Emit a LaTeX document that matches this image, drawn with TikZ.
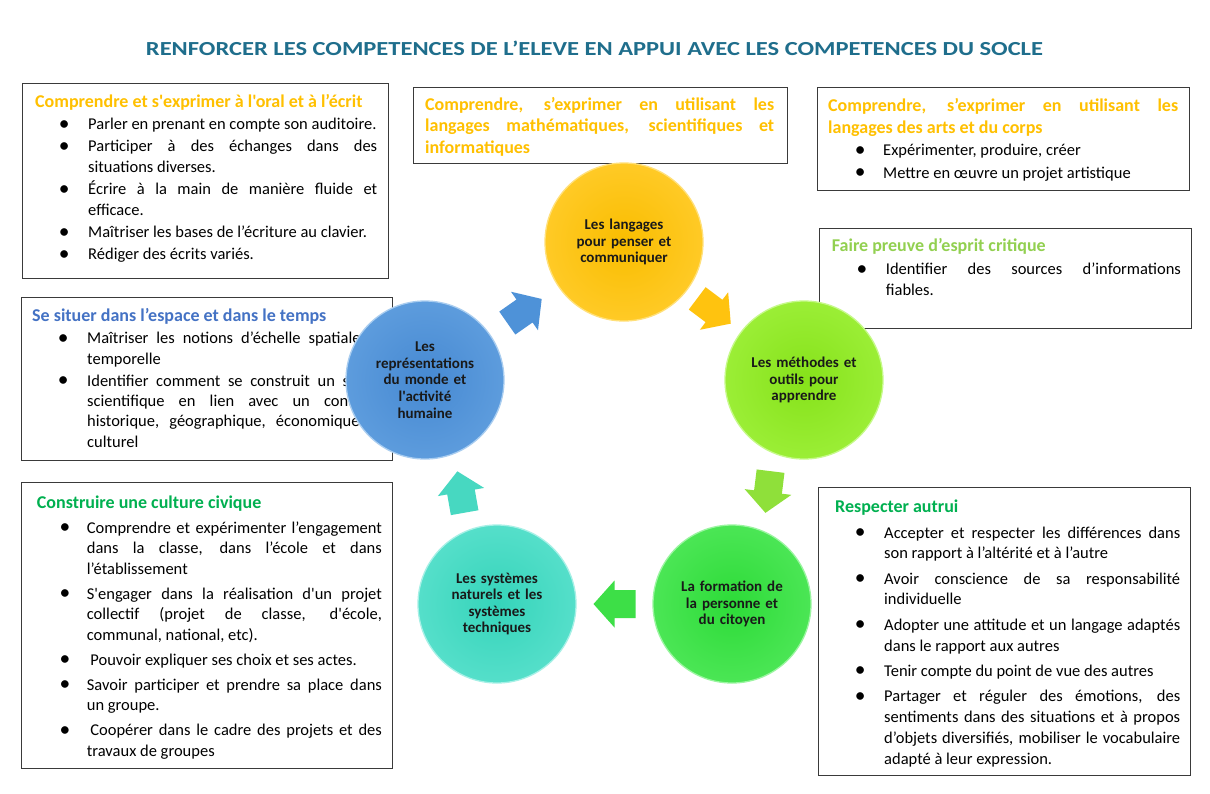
\documentclass[tikz,border=0pt]{standalone}
\usepackage{graphicx}
\usepackage{fontspec}
\setmainfont{Carlito}[Ligatures=TeXOff]
\usetikzlibrary{calc}
\definecolor{ttl}{HTML}{1F6E8C}
\definecolor{org}{HTML}{FFC000}
\definecolor{lgr}{HTML}{92D050}
\definecolor{blu}{HTML}{4472C4}
\definecolor{grn}{HTML}{00B050}
\definecolor{brd}{HTML}{3A3A3A}
\definecolor{yelI}{HTML}{F9BD00}\definecolor{yelO}{HTML}{FFCA26}\definecolor{yelR}{HTML}{FFE07A}
\definecolor{limI}{HTML}{86E21A}\definecolor{limO}{HTML}{9BEE36}\definecolor{limR}{HTML}{C6F98A}
\definecolor{grnI}{HTML}{2DDB38}\definecolor{grnO}{HTML}{4BE655}\definecolor{grnR}{HTML}{9AF5A0}
\definecolor{teaI}{HTML}{35D4BA}\definecolor{teaO}{HTML}{55DFCA}\definecolor{teaR}{HTML}{A6F0E6}
\definecolor{bluI}{HTML}{4689D2}\definecolor{bluO}{HTML}{5D9CDD}\definecolor{bluR}{HTML}{A9CDF0}
\definecolor{arB}{HTML}{4E92D8}
\definecolor{arY}{HTML}{FFC30F}
\definecolor{arL}{HTML}{8FE03A}
\definecolor{arG}{HTML}{3DDF47}
\definecolor{arT}{HTML}{47D8C1}
\hyphenpenalty=10000 \exhyphenpenalty=10000
\tolerance=9999 \hbadness=10000 \emergencystretch=3em
\newlength{\bind}\newlength{\bdot}
\newcommand{\bul}{\raisebox{-0.6pt}{\scalebox{1.3}{\textbullet}}}
\newcommand{\bitem}[1]{\par\hangindent=\bind\hangafter=1\noindent\makebox[\bind][l]{\hspace{\bdot}\makebox[0pt][c]{\bul}}#1}
\newcommand{\hd}[2]{\textcolor{#1}{\fontsize{18}{21}\selectfont\bfseries #2}}
\newcommand{\bodyfont}{\fontsize{16.5}{21}\selectfont}
\newcommand{\circfont}{\fontsize{15}{16.6}\selectfont\bfseries}
\newcommand{\cycarrow}[1]{(-21,-14) -- (0,-14) -- (0,-23.5) -- (21,0) -- (0,23.5) -- (0,14) -- (-21,14) -- cycle}
\begin{document}
\begin{tikzpicture}[x=1pt,y=-1pt,
  box/.style={draw=brd, line width=1.1pt, fill=white, inner sep=0pt, anchor=north west},
  txt/.style={anchor=north west, inner sep=0pt, align=justify, font=\bodyfont},
  circ/.style={circle, minimum size=158pt, inner sep=0pt, text width=130pt, align=center, font=\circfont, text=black!90, line width=1.3pt}]
\useasboundingbox (0,0) rectangle (1210,793);
\fill[white] (0,0) rectangle (1210,793);
% title
\node[inner sep=0pt, text=ttl] (title) at (594.5,48.8) {\resizebox{897pt}{14.5pt}{\bfseries RENFORCER LES COMPETENCES DE L’ELEVE EN APPUI AVEC LES COMPETENCES DU SOCLE}};
% boxes
\node[box, minimum width=366pt, minimum height=195pt] (b1) at (22,83) {};
\node[box, minimum width=374pt, minimum height=76pt] (b2) at (413,87) {};
\node[box, minimum width=372pt, minimum height=103pt] (b3) at (817,87) {};
\node[box, minimum width=372pt, minimum height=100pt] (b4) at (819,228) {};
\node[box, minimum width=371pt, minimum height=163pt] (b5) at (21,297) {};
\node[box, minimum width=371pt, minimum height=286pt] (b6) at (21,482) {};
\node[box, minimum width=372pt, minimum height=288pt] (b7) at (818,487) {};
% box texts
\node[txt, text width=342pt] (t1) at (35,92.5) {\setlength\parskip{1pt}\setlength\bind{53pt}\setlength\bdot{29pt}%
\noindent\strut\hd{org}{Comprendre et s'exprimer à l'oral et à l’écrit}
\bitem{Parler en prenant en compte son auditoire.}
\bitem{Participer à des échanges dans des\linebreak situations diverses.}
\bitem{Écrire à la main de manière fluide et\linebreak efficace.}
\bitem{Maîtriser les bases de l’écriture au clavier.}
\bitem{Rédiger des écrits variés.}\par};
\node[txt, text width=349pt, font=\fontsize{16.5}{21.2}\selectfont] (t2) at (425,95.7) {%
\noindent\strut\hd{org}{Comprendre, s’exprimer en utilisant les\linebreak langages mathématiques, scientifiques et\linebreak informatiques}\par};
\node[txt, text width=350pt, font=\fontsize{16.5}{21.5}\selectfont] (t3) at (828,96.5) {\setlength\parskip{1pt}\setlength\bind{55pt}\setlength\bdot{32pt}%
\noindent\strut\hd{org}{Comprendre, s’exprimer en utilisant les\linebreak langages des arts et du corps}
\bitem{Expérimenter, produire, créer}
\bitem{Mettre en œuvre un projet artistique}\par};
\node[txt, text width=349pt] (t4) at (831.7,236.5) {\setlength\parskip{2pt}\setlength\bind{54pt}\setlength\bdot{30pt}%
\noindent\strut\hd{lgr}{Faire preuve d’esprit critique}
\bitem{Identifier des sources d’informations\linebreak fiables.}\par};
\node[txt, text width=350pt, font=\fontsize{16.5}{20.3}\selectfont] (t5) at (32,307) {\setlength\parskip{2pt}\setlength\bind{55pt}\setlength\bdot{31pt}%
\noindent\strut\hd{blu}{Se situer dans l’espace et dans le temps}
\bitem{Maîtriser les notions d’échelle spatiale et\linebreak temporelle}
\bitem{Identifier comment se construit un savoir\linebreak scientifique en lien avec un contexte\linebreak historique, géographique, économique et\linebreak culturel}\par};
\node[txt, text width=345pt, font=\fontsize{16.5}{20.5}\selectfont] (t6) at (36.7,493.5) {\setlength\parskip{4.5pt}\setlength\bind{50pt}\setlength\bdot{28pt}%
\noindent\strut\hd{grn}{Construire une culture civique}
\bitem{Comprendre et expérimenter l’engagement\linebreak dans la classe, dans l’école et dans\linebreak l’établissement}
\bitem{S'engager dans la réalisation d'un projet\linebreak collectif (projet de classe, d'école,\linebreak communal, national, etc).}
\bitem{\hspace{3.5pt}Pouvoir expliquer ses choix et ses actes.}
\bitem{Savoir participer et prendre sa place dans\linebreak un groupe.}
\bitem{\hspace{3.5pt}Coopérer dans le cadre des projets et des\linebreak travaux de groupes}\par};
\node[txt, text width=345pt, font=\fontsize{16.5}{20.8}\selectfont] (t7) at (835,498) {\setlength\parskip{4.5pt}\setlength\bind{49pt}\setlength\bdot{25pt}%
\noindent\strut\hd{grn}{Respecter autrui}
\bitem{Accepter et respecter les différences dans\linebreak son rapport à l’altérité et à l’autre}
\bitem{Avoir conscience de sa responsabilité\linebreak individuelle}
\bitem{Adopter une attitude et un langage adaptés\linebreak dans le rapport aux autres}
\bitem{Tenir compte du point de vue des autres}
\bitem{Partager et réguler des émotions, des\linebreak sentiments dans des situations et à propos\linebreak d’objets diversifiés, mobiliser le vocabulaire\linebreak adapté à leur expression.}\par};
% circles
\node[circ, inner color=yelI, outer color=yelO, draw=yelR] (c1) at (624,242) {Les langages\\pour penser et\\communiquer};
\node[circ, inner color=limI, outer color=limO, draw=limR] (c2) at (804,380) {Les méthodes et\\outils pour\\apprendre};
\node[circ, inner color=grnI, outer color=grnO, draw=grnR] (c3) at (732,604) {La formation de\\la personne et\\du citoyen};
\node[circ, inner color=teaI, outer color=teaO, draw=teaR] (c4) at (497,604) {Les systèmes\\naturels et les\\systèmes\\techniques};
\node[circ, inner color=bluI, outer color=bluO, draw=bluR] (c5) at (425,380) {Les\\représentations\\du monde et\\l'activité\\humaine};
% cycle arrows
\coordinate (a51) at ($(c5)!0.5!(c1)$);
\coordinate (a12) at ($(c1)!0.5!(c2)$);
\coordinate (a23) at ($(c2)!0.5!(c3)$);
\coordinate (a34) at ($(c3)!0.5!(c4)$);
\coordinate (a45) at ($(c4)!0.5!(c5)$);
\fill[arB, shift={(a51)}, rotate=35] \cycarrow{};
\fill[arY, shift={(a12)}, rotate=-37] \cycarrow{};
\fill[arL, shift={(a23)}, rotate=-97] \cycarrow{};
\fill[arG, shift={(a34)}, rotate=180] \cycarrow{};
\fill[arT, shift={(a45)}, rotate=100] \cycarrow{};
\end{tikzpicture}
\end{document}
